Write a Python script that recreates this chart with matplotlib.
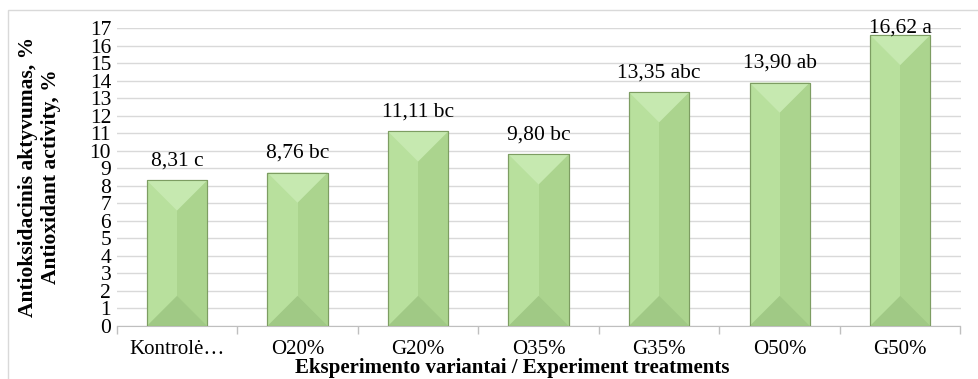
import matplotlib
matplotlib.use("Agg")
import matplotlib.pyplot as plt
from matplotlib.patches import Polygon, Rectangle

plt.rcParams['font.family'] = ['Liberation Serif', 'DejaVu Serif']

categories = ["Kontrolė…", "O20%", "G20%", "O35%", "G35%", "O50%", "G50%"]
values = [8.31, 8.76, 11.11, 9.80, 13.35, 13.90, 16.62]
letters = ["c", "bc", "bc", "bc", "abc", "ab", "a"]
y_ticks = list(range(0, 18))

W, H = 979, 379
FS = 15.5
fig = plt.figure(figsize=(W / 100, H / 100), dpi=100)

# light chart-area frame
fig.patches.append(Rectangle((8 / W, -0.05), 1.1, (H - 10) / H + 0.05,
                             transform=fig.transFigure, fill=False,
                             edgecolor="#d9d9d9", linewidth=1.0))

ax = fig.add_axes([116.7 / W, 53 / H, (960.5 - 116.7) / W, (326 - 28.3) / H])
x = list(range(len(categories)))
ax.set_xlim(-0.5, len(categories) - 0.5)
ax.set_ylim(0, 17)

face_left = "#b8e09d"
face_right = "#abd48e"
top_tri = "#c6e9b0"
bot_tri = "#a0c985"
edge = "#7d9d62"

bars = ax.bar(x, values, width=0.5, color=face_left, edgecolor=edge,
              linewidth=0.8, zorder=3)

# bevel shading on each bar, 45 degree facets in screen space
p0 = ax.transData.transform((0, 0))
p1 = ax.transData.transform((1, 1))
px_x = p1[0] - p0[0]
px_y = p1[1] - p0[1]
for b in bars:
    bx, bw, bh = b.get_x(), b.get_width(), b.get_height()
    cx = bx + bw / 2
    d = (bw * px_x / 2) / px_y
    d = min(d, bh / 2)
    ax.add_patch(Polygon([(cx, 0), (bx + bw, 0), (bx + bw, bh), (cx, bh)],
                         closed=True, facecolor=face_right, edgecolor="none", zorder=3.1))
    ax.add_patch(Polygon([(bx, bh), (bx + bw, bh), (cx, bh - d)],
                         closed=True, facecolor=top_tri, edgecolor="none", zorder=3.2))
    ax.add_patch(Polygon([(bx, 0), (bx + bw, 0), (cx, d)],
                         closed=True, facecolor=bot_tri, edgecolor="none", zorder=3.2))
    ax.add_patch(Rectangle((bx, 0), bw, bh, fill=False, edgecolor=edge,
                           linewidth=0.8, zorder=3.3))

for xi, v, lt in zip(x, values, letters):
    label = f"{v:.2f}".replace(".", ",") + " " + lt
    ly = min(v + 1.09, 17.0)
    ax.text(xi, ly, label, ha="center", va="center", fontsize=FS,
            zorder=5, clip_on=False)

ax.set_yticks(y_ticks)
ax.set_yticklabels([str(t) for t in y_ticks], fontsize=FS)
ax.yaxis.grid(True, color="#d9d9d9", linewidth=1.0, zorder=0)
ax.set_axisbelow(True)
ax.tick_params(axis="y", length=0, pad=4)

ax.set_xticks(x)
ax.set_xticklabels(categories, fontsize=15)
ax.set_xticks([i - 0.5 for i in range(len(categories) + 1)], minor=True)
ax.tick_params(axis="x", which="major", length=0, pad=10)
ax.tick_params(axis="x", which="minor", length=6, color="#bfbfbf", width=1)

for s in ["top", "right", "left"]:
    ax.spines[s].set_visible(False)
ax.spines["bottom"].set_color("#bfbfbf")

fig.text(512 / W, (H - 368) / H, "Eksperimento variantai / Experiment treatments",
         ha="center", va="center", fontsize=15, fontweight="bold")
fig.text(39.5 / W, (H - 177) / H, "Antioksidacinis aktyvumas, %\nAntioxidant activity, %",
         ha="center", va="center", rotation=90, fontsize=FS, fontweight="bold",
         linespacing=1.2, multialignment="center")

fig.savefig("out.png", dpi=100)
